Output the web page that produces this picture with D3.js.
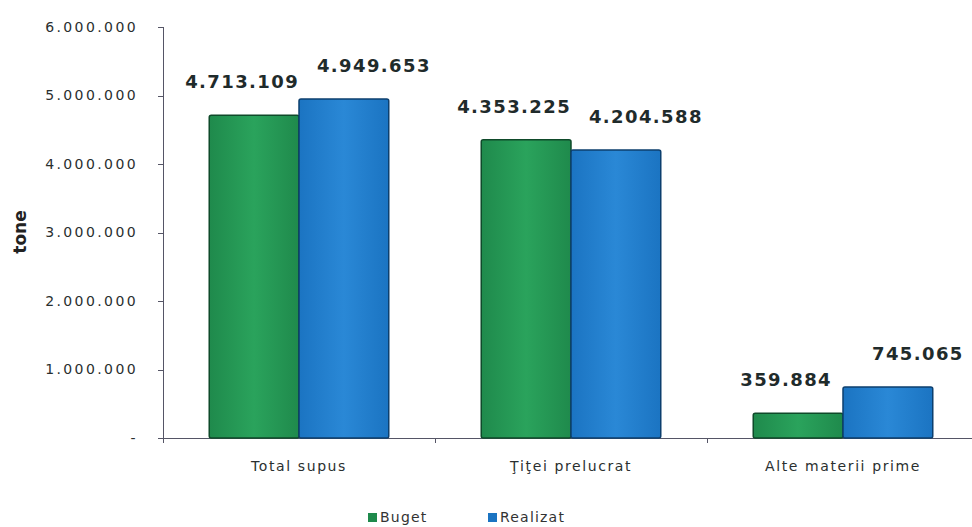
<!DOCTYPE html>
<html lang="ro">
<head>
<meta charset="UTF-8">
<title>Materii prime</title>
<script src="https://cdn.jsdelivr.net/npm/d3@7"></script>
<style>
    body { margin: 0; background: #fff; }
    .axis path, .axis line { stroke: #556; shape-rendering: crispEdges; }
    .axis text { font-family: 'DejaVu Sans', Verdana; font-size: 14px; fill: #2a2f2f; letter-spacing: 1.6px; }
    .y.axis text { font-size: 14px; letter-spacing: 2.4px; }
    .val { font-family: 'DejaVu Sans'; font-weight: bold; font-size: 18px; fill: #1f2b2b; letter-spacing: 1.4px; }
</style>
</head>
<body>
<svg id="img" width="972" height="527"></svg>
<script>
var categories = ["Total supus", "Ţiţei prelucrat", "Alte materii prime"];
var series = ["Buget", "Realizat"];
var buget = [4713109, 4353225, 359884];
var realizat = [4949653, 4204588, 745065];
var yTicks = [0, 1000000, 2000000, 3000000, 4000000, 5000000, 6000000];

var colors = {Buget: "#1f8a4c", Realizat: "#1b74c2"};
var light = {Buget: "#2aa35c", Realizat: "#2a88d6"};
var strokes = {Buget: "#0f4a2a", Realizat: "#0d3f6e"};

var svg = d3.select("#img"),
    M = {top: 27, left: 163, bottom: 438, right: 979};

var defs = svg.append("defs");
series.forEach(function (s) {
    var gr = defs.append("linearGradient").attr("id", "g-" + s).attr("x1", 0).attr("x2", 1).attr("y1", 0).attr("y2", 0);
    gr.append("stop").attr("offset", "0%").attr("stop-color", colors[s]);
    gr.append("stop").attr("offset", "50%").attr("stop-color", light[s]);
    gr.append("stop").attr("offset", "100%").attr("stop-color", colors[s]);
});

var x0 = d3.scaleBand().domain(categories).range([M.left, M.right]).paddingInner(0.34).paddingOuter(0.17);
var x1 = d3.scaleBand().domain(series).range([0, x0.bandwidth()]);
var y = d3.scaleLinear().domain([0, 6000000]).range([M.bottom, M.top]);

var fmt = function (v) {
    if (v === 0) return "-";
    return d3.format(",")(v).replace(/,/g, ".");
};

// y axis
svg.append("g")
    .attr("class", "y axis")
    .attr("transform", "translate(" + M.left + ",0)")
    .call(d3.axisLeft(y).tickValues(yTicks).tickFormat(fmt).tickSize(5).tickPadding(20));

// x axis with ticks between categories
var xAx = svg.append("g")
    .attr("class", "x axis")
    .attr("transform", "translate(0," + M.bottom + ")");
xAx.append("line").attr("x1", M.left).attr("x2", M.right).attr("y1", 0).attr("y2", 0);
var step = x0.step();
categories.forEach(function (c, i) {
    var left = x0(c) - x0.paddingInner() * step / 2;
    xAx.append("line").attr("x1", left).attr("x2", left).attr("y1", 0).attr("y2", 5);
    xAx.append("text")
        .attr("x", x0(c) + x0.bandwidth() / 2)
        .attr("y", 33)
        .attr("text-anchor", "middle")
        .text(c);
});

var rows = categories.map(function (c, i) {
    return {cat: c, vals: [{s: "Buget", v: buget[i]}, {s: "Realizat", v: realizat[i]}]};
});

var g = svg.selectAll(".grp").data(rows).enter().append("g")
    .attr("transform", function (d) { return "translate(" + x0(d.cat) + ",0)"; });

g.selectAll("rect").data(function (d) { return d.vals; }).enter().append("rect")
    .attr("x", function (d) { return x1(d.s); })
    .attr("y", function (d) { return y(d.v); })
    .attr("width", x1.bandwidth())
    .attr("height", function (d) { return y(0) - y(d.v); })
    .attr("rx", 2)
    .attr("fill", function (d) { return "url(#g-" + d.s + ")"; })
    .attr("stroke", function (d) { return strokes[d.s]; })
    .attr("stroke-width", 1.5);

// labels
g.selectAll(".val").data(function (d) { return d.vals; }).enter().append("text")
    .attr("class", "val")
    .attr("x", function (d) { return x1(d.s) + x1.bandwidth() / 2 + (d.s === "Buget" ? -12 : 30); })
    .attr("y", function (d) { return y(d.v) - 27; })
    .attr("text-anchor", "middle")
    .text(function (d) { return fmt(d.v); });

// y title
svg.append("text")
    .attr("transform", "translate(26,232) rotate(-90)")
    .attr("text-anchor", "middle")
    .style("font-family", "'DejaVu Sans', Verdana")
    .style("font-weight", "bold")
    .style("font-size", "17px")
    .style("fill", "#222")
    .text("tone");

// legend
var leg = svg.append("g").attr("transform", "translate(368,522)");
series.forEach(function (s, i) {
    var lx = i * 120;
    leg.append("rect").attr("x", lx).attr("y", -9).attr("width", 9).attr("height", 9).attr("fill", colors[s]);
    leg.append("text").attr("x", lx + 12).attr("y", 0)
        .style("font-family", "'DejaVu Sans', Verdana").style("font-size", "14px").style("fill", "#333")
        .style("letter-spacing", "1.2px")
        .text(s);
});
</script>
</body>
</html>
